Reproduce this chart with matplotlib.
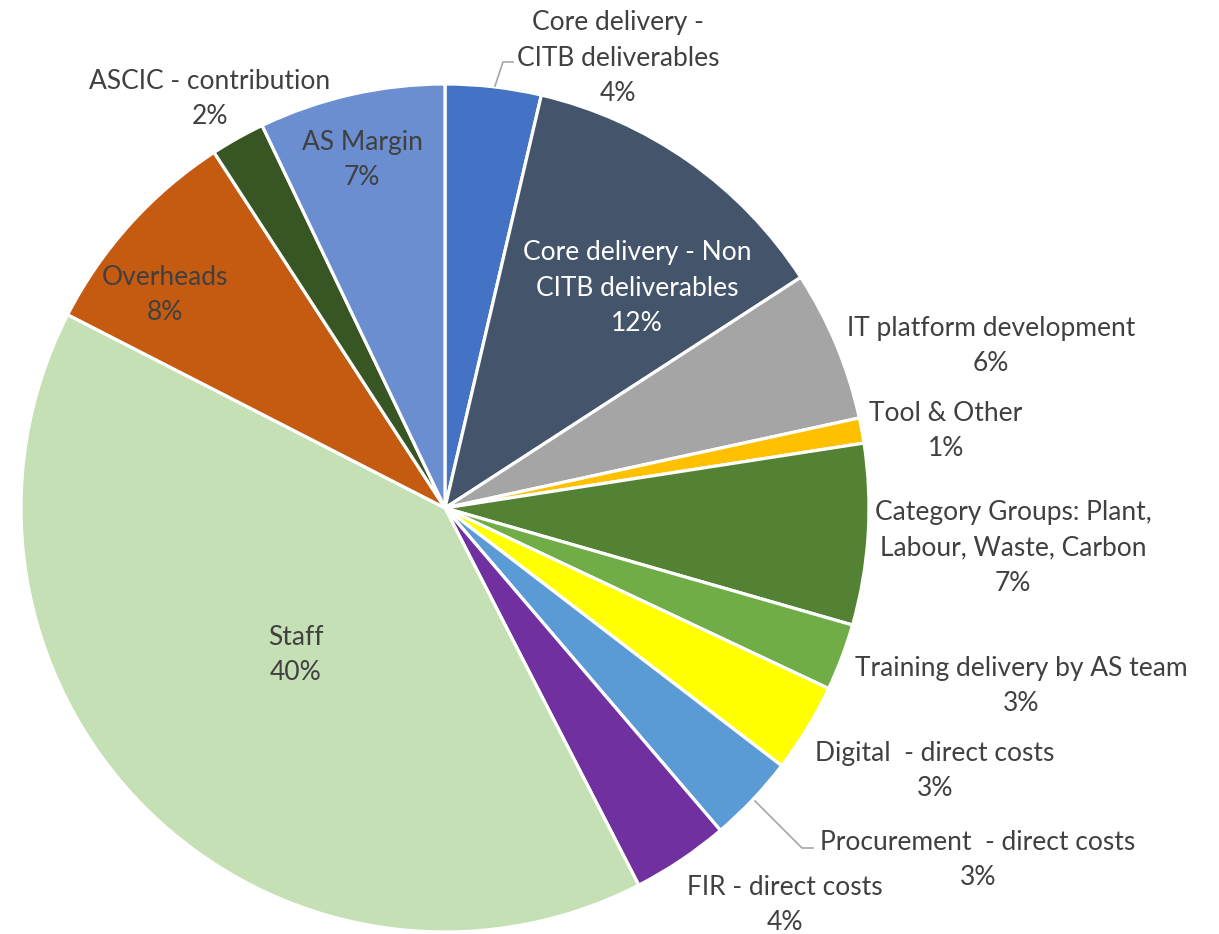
import matplotlib
matplotlib.use("Agg")
import matplotlib.pyplot as plt

W, H = 1219, 934

categories = [
    "Core delivery -\nCITB deliverables",
    "Core delivery - Non\nCITB deliverables",
    "IT platform development",
    "Tool & Other",
    "Category Groups: Plant,\nLabour, Waste, Carbon",
    "Training delivery by AS team",
    "Digital  - direct costs",
    "Procurement  - direct costs",
    "FIR - direct costs",
    "Staff",
    "Overheads",
    "ASCIC - contribution",
    "AS Margin",
]
values = [3.65, 12.2, 5.75, 0.96, 6.9, 2.55, 3.4, 3.35, 3.7, 40.1, 8.3, 2.07, 7.1]
colors = ["#4472C4", "#44546A", "#A5A5A5", "#FFC000", "#548235", "#70AD47",
          "#FFFF00", "#5B9BD5", "#7030A0", "#C5E0B4", "#C55A11", "#375623", "#6A8ED0"]

# label layout (pixel positions of label centres) and text colours
label_pos = [(618, 58), (637, 288), (991, 346), (946, 431), (1013, 548),
             (1021, 686), (935, 771), (978, 860), (785, 905), (296, 655),
             (165, 295), (210, 99), (362, 160)]
label_col = ["#404040", "white", "#404040", "#404040", "#404040", "#404040",
             "#404040", "#404040", "#404040", "#404040", "#404040", "#404040", "#404040"]

plt.rcParams['font.family'] = ['Lato', 'DejaVu Sans']

fig = plt.figure(figsize=(W / 100, H / 100), dpi=100)
ax = fig.add_axes([0, 0, 1, 1])

cx, cy, r = 445, H - 508, 424
ax.pie(values, colors=colors, startangle=90, counterclock=False,
       center=(cx, cy), radius=r,
       wedgeprops=dict(edgecolor="white", linewidth=2.3))

total = sum(values)
for cat, v, (px, py), col in zip(categories, values, label_pos, label_col):
    pct = f"{round(v / total * 100):.0f}%"
    ax.text(px, H - py, f"{cat}\n{pct}", ha="center", va="center",
            fontsize=19, color=col, linespacing=1.52)

# leader lines
lc = "#A6A6A6"
ax.plot([495, 503, 513], [H - 86, H - 62, H - 62], color=lc, lw=1.2)
ax.plot([755, 802, 813], [H - 801, H - 848, H - 848], color=lc, lw=1.2)

ax.set_xlim(0, W)
ax.set_ylim(0, H)
ax.set_aspect("equal")
ax.axis("off")

fig.savefig("out.png", dpi=100, facecolor="white")
